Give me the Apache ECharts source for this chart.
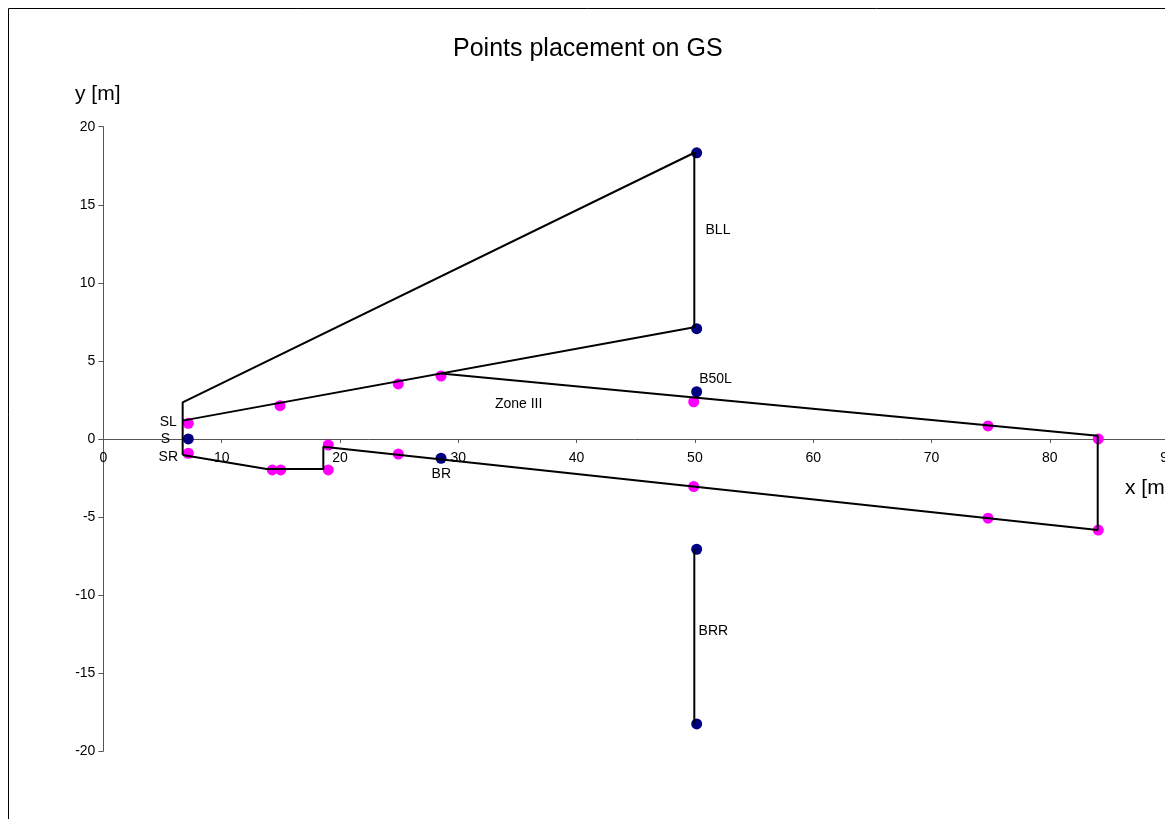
<!DOCTYPE html>
<html>
<head>
<meta charset="utf-8">
<script src="https://cdn.jsdelivr.net/npm/echarts@6/dist/echarts.min.js"></script>
<style>
html,body{margin:0;padding:0;background:#fff;}
#chart{width:1165px;height:819px;}
</style>
</head>
<body>
<div id="chart"></div>
<script>
// Outline polylines [x, y] in metres
var outlineTriangle = [[6.70,-1.03],[6.70,2.34],[49.95,18.33],[49.95,7.15],[6.70,1.17]];
var outlineZone = [[28.54,4.19],[84.05,0.20],[84.05,-5.84],[18.59,-0.50],[18.59,-1.93],[13.80,-1.93],[6.70,-1.03]];
var outlineBRR = [[49.95,-7.07],[49.95,-18.26]];

// Blue (navy) points
var bluePoints = [[7.18,0],[50.15,18.33],[50.15,7.06],[50.15,3.02],[28.54,-1.24],[50.15,-7.07],[50.15,-18.26]];

// Magenta points
var magentaPoints = [[7.18,1.0],[7.18,-0.92],[14.93,2.13],[24.93,3.52],[28.54,4.03],[49.9,2.38],[74.78,0.83],[84.1,0],
  [84.1,-5.84],[74.78,-5.08],[49.9,-3.05],[24.93,-0.97],[19.01,-0.39],[19.01,-1.99],[14.28,-1.99],[14.99,-1.99]];

// Point labels [x, y, text]
var pointLabels = [[5.49,1.10,'SL'],[5.25,0,'S'],[5.49,-1.20,'SR'],[51.95,13.38,'BLL'],[51.74,3.82,'B50L'],
  [35.1,2.22,'Zone III'],[28.56,-2.27,'BR'],[51.56,-12.29,'BRR']];

var xTicks = {min:0, max:90, interval:10};
var yTicks = {min:-20, max:20, interval:5};

var FONT = 'Liberation Sans, Arial, sans-serif';
var GRID = {left:103.4, top:126.7, width:1064.7, height:624.4, containLabel:false, outerBoundsMode:'none'};
// offset that moves the x axis from the bottom of the grid to y = 0
var xAxisOffset = -GRID.height * (0 - yTicks.min) / (yTicks.max - yTicks.min);

var chart = echarts.init(document.getElementById('chart'));

function lineSeries(data){
  return {type:'line', data:data, showSymbol:false, symbol:'none', z:5,
    lineStyle:{color:'#000', width:2}, silent:true, animation:false, clip:false};
}

chart.setOption({
  animation:false,
  backgroundColor:'#fff',
  title:{text:'Points placement on GS', left:448, top:32,
    textStyle:{fontFamily:FONT, fontSize:25, fontWeight:'normal', color:'#000'}},
  grid:GRID,
  xAxis:{type:'value', min:xTicks.min, max:xTicks.max, interval:xTicks.interval,
    position:'bottom', offset:xAxisOffset,
    axisLine:{onZero:false, lineStyle:{color:'#555', width:1}},
    axisTick:{show:true, inside:false, length:4, lineStyle:{color:'#555'}},
    axisLabel:{fontFamily:FONT, fontSize:14, color:'#000', margin:12, showMaxLabel:true, showMinLabel:true},
    splitLine:{show:false}},
  yAxis:{type:'value', min:yTicks.min, max:yTicks.max, interval:yTicks.interval,
    axisLine:{show:true, onZero:false, lineStyle:{color:'#555', width:1}},
    axisTick:{show:true, inside:false, length:5, lineStyle:{color:'#555'}},
    axisLabel:{fontFamily:FONT, fontSize:14, color:'#000', margin:8},
    splitLine:{show:false}},
  graphic:[
    {type:'rect', shape:{x:8.5, y:8.5, width:1300, height:1000}, style:{fill:'none', stroke:'#000', lineWidth:1}, z:100},
    {type:'text', left:75, top:84, style:{text:'y [m]', fontFamily:FONT, fontSize:21, fill:'#000'}},
    {type:'text', left:1125, top:478, style:{text:'x [m]', fontFamily:FONT, fontSize:21, fill:'#000'}}
  ],
  series:[
    {type:'scatter', data:magentaPoints, symbolSize:11, itemStyle:{color:'#FF00FF', opacity:1}, z:3, clip:false},
    {type:'scatter', data:bluePoints, symbolSize:11, itemStyle:{color:'#000080', opacity:1}, z:3, clip:false},
    lineSeries(outlineTriangle),
    lineSeries(outlineZone),
    lineSeries(outlineBRR),
    {type:'scatter', data:pointLabels.map(function(p){return [p[0],p[1],p[2]];}), symbolSize:0, z:6,
      itemStyle:{opacity:1},
      label:{show:true, position:'inside', fontFamily:FONT, fontSize:14, color:'#000', opacity:1,
        formatter:function(p){return p.value[2];}}}
  ]
});
</script>
</body>
</html>
